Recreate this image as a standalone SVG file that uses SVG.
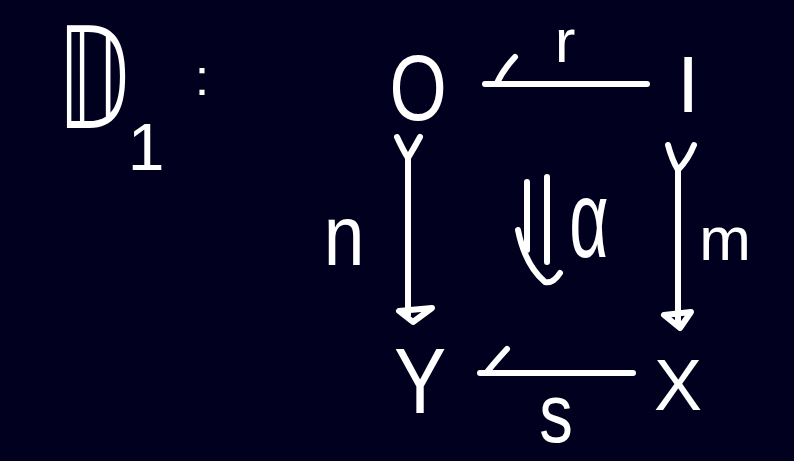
<svg xmlns="http://www.w3.org/2000/svg" width="794" height="461" viewBox="0 0 794 461">
<style>
.t{fill:#ffffff;font-family:"Liberation Sans","DejaVu Sans",sans-serif;text-anchor:middle}
.s{fill:none;stroke:#ffffff;stroke-width:6;stroke-linecap:round;stroke-linejoin:round}
</style>
<rect width="794" height="461" fill="#01011f"/>
<g id="title">
<text x="57" y="128" font-size="140" fill="#ffffff" font-family="DejaVu Sans, sans-serif" textLength="72" lengthAdjust="spacingAndGlyphs">𝔻</text>
<text class="t" x="146" y="170" font-size="66">1</text>
<text class="t" x="202" y="95" font-size="52">:</text>
</g>
<g id="node-O"><text class="t" transform="translate(418,120) scale(0.8,1)" font-size="92">O</text></g>
<g id="node-I"><text class="t" x="688" y="112" font-size="80">I</text></g>
<g id="node-Y"><text class="t" transform="translate(420,413) scale(0.85,1)" font-size="92">Y</text></g>
<g id="node-X"><text class="t" x="678" y="410" font-size="72">X</text></g>
<g id="connectors">
<path class="s" d="M647,84 L485,84 M515,57 Q503,70 497,83"/>
<text class="t" x="565" y="62" font-size="62">r</text>
<path class="s" d="M633,373 L480,373 M507,349 Q495,362 487,372"/>
<text class="t" transform="translate(556,442) scale(0.8,1)" font-size="84">s</text>
<path class="s" d="M397,137 Q403,150 408,158 Q414,148 420,137 M408,158 L408,315 M399,311 L432,308 L413,322 Z"/>
<text class="t" transform="translate(344,265) scale(0.85,1)" font-size="86">n</text>
<path class="s" d="M668,145 Q672,160 678,170 Q688,160 694,145 M678,170 L678,326 M664,315 L691,312 L680,328 Z"/>
<text class="t" x="725" y="260" font-size="62">m</text>
<path class="s" d="M527,182 L527,250 M547,177 L547,262 M518,230 Q525,265 545,282 Q553,284 560,273"/>
<text class="t" transform="translate(589,257) scale(0.68,1.1)" font-size="100">α</text>
</g>
</svg>
